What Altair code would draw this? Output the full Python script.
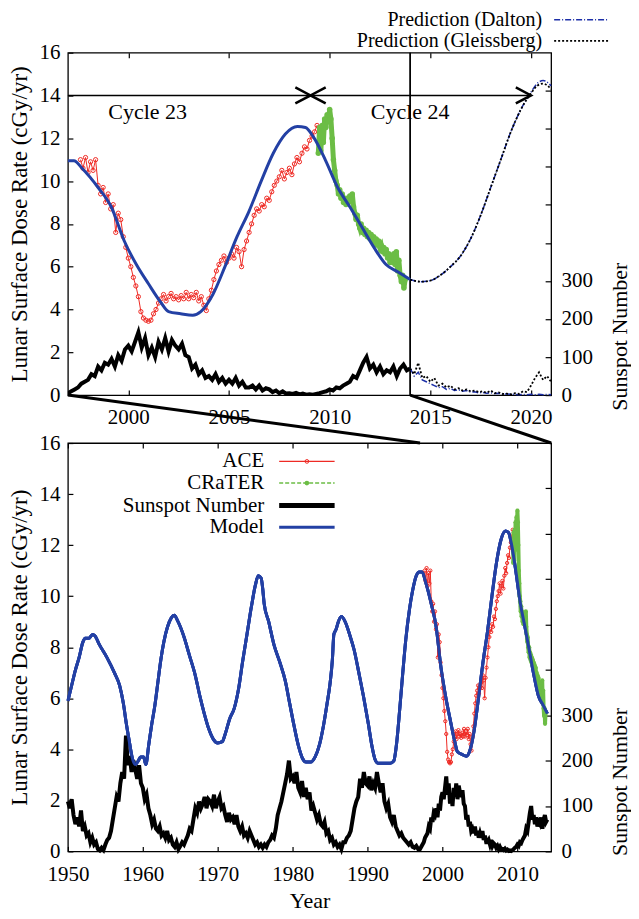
import altair as alt
import pandas as pd

FONT = "'Liberation Serif', 'Times New Roman', Tinos, 'DejaVu Serif', serif"
BLUE = "#2340a4"
RED = "#ee2a24"
GREEN = "#6cbd45"
DALTON = "#1c2fa8"

# ---------------- data ----------------
model_year = [1950.0, 1950.5, 1951.0, 1951.5, 1952.0, 1952.3, 1952.8, 1953.3, 1953.6, 1954.2,
              1955.2, 1956.2, 1956.9, 1957.4, 1957.8, 1958.2, 1958.6, 1959.0, 1959.4, 1959.7,
              1960.1, 1960.4, 1960.8, 1961.2, 1961.6, 1962.0, 1962.4, 1962.8, 1963.3, 1963.8,
              1964.2, 1964.7, 1965.5, 1966.2, 1967.0, 1967.6, 1968.2, 1968.8, 1969.4, 1970.0,
              1970.6, 1971.0, 1971.6, 1972.2, 1972.8, 1973.3, 1973.9, 1974.5, 1975.0, 1975.4,
              1975.8, 1976.0, 1976.2, 1976.8, 1977.5, 1978.3, 1979.0, 1979.6, 1980.2, 1980.8,
              1981.3, 1981.8, 1982.4, 1983.0, 1983.6, 1984.1, 1984.6, 1985.0, 1985.3, 1985.5,
              1985.8, 1986.1, 1986.5, 1987.0, 1987.6, 1988.2, 1988.9, 1989.5, 1990.1, 1990.6,
              1991.0, 1991.4, 1992.0, 1993.0, 1993.5, 1993.9, 1994.3, 1994.7, 1995.1, 1995.6,
              1996.0, 1996.5, 1996.9, 1997.3, 1997.7, 1998.5, 1999.15, 1999.8, 2000.4, 2001.0,
              2001.6, 2002.0, 2002.6, 2003.2, 2003.6, 2004.2, 2004.8, 2005.4, 2006.0, 2006.6,
              2007.2, 2007.8, 2008.4, 2008.8, 2009.2, 2009.8, 2010.4, 2011.0, 2011.6, 2012.2,
              2012.8, 2013.4, 2014.0]
model_dose = [5.9, 6.5, 7.1, 7.6, 8.2, 8.35, 8.35, 8.5, 8.45, 8.1,
              7.6, 7.0, 6.5, 5.8, 5.0, 4.3, 3.65, 3.4, 3.55, 3.7,
              3.7, 3.4, 4.2, 5.0, 5.7, 6.6, 7.5, 8.2, 8.8, 9.15,
              9.25, 9.0, 8.4, 7.7, 6.9, 6.1, 5.4, 4.8, 4.4, 4.25,
              4.3, 4.6, 5.2, 5.6, 6.4, 7.4, 8.5, 9.6, 10.4, 10.8,
              10.7, 10.3, 9.7, 9.0, 8.1, 7.4, 6.7, 5.8, 4.9, 4.1,
              3.65, 3.5, 3.5, 3.7, 4.2, 4.9, 5.8, 6.6, 7.5, 8.5,
              8.7, 9.0, 9.2, 9.0, 8.5, 7.9, 6.9, 6.0, 5.0, 4.1,
              3.6, 3.45, 3.45, 3.45, 3.55, 4.3, 5.6, 7.0, 8.3, 9.5,
              10.2, 10.8, 10.95, 10.95, 10.6, 9.7, 8.8, 7.2, 6.1, 5.2,
              4.35, 3.9, 3.8, 3.73, 3.9, 4.7, 6.0, 7.4, 8.6, 10.0,
              11.3, 12.2, 12.55, 12.5, 12.05, 10.96, 9.7, 8.8, 7.85, 6.9,
              6.1, 5.75, 5.4]

ace_dose = [11.0, 10.6, 11.1, 10.4, 10.9, 10.5, 11.0, 9.8, 9.4, 9.7,
            9.0, 9.4, 8.7, 8.9, 7.6, 8.5, 8.2, 7.4, 6.9, 6.4,
            6.0, 5.5, 5.1, 4.6, 3.9, 3.6, 3.5, 3.45, 3.5, 3.8,
            4.0, 4.3, 4.5, 4.7, 4.4, 4.6, 4.75, 4.5, 4.6, 4.45,
            4.65, 4.5, 4.8, 4.5, 4.7, 4.55, 4.8, 4.4, 4.6, 4.2,
            3.95, 4.5, 4.9, 5.4, 5.8, 6.1, 6.3, 6.5, 6.2, 6.4,
            6.6, 6.4, 6.9, 6.7, 6.0, 6.8, 7.2, 7.6, 8.0, 8.4,
            8.7, 8.6, 8.9, 8.8, 9.2, 9.1, 9.5, 9.8, 10.0, 10.2,
            10.5, 10.1, 10.4, 10.6, 10.3, 10.8, 11.1, 10.9, 11.3, 11.6,
            11.5, 11.9, 12.1, 12.3, 12.6, 12.4]
ace_year = [1997.625 + 0.125 * i for i in range(len(ace_dose))]

crater_dose = [11.3, 12.5, 11.4, 12.6, 11.8, 12.9, 12.5, 13.1, 12.8, 13.35,
               12.9, 12.0, 11.0, 10.5, 10.0, 9.8, 9.4, 9.6, 9.2, 9.4,
               9.0, 9.2, 8.9, 9.2, 9.0, 9.3, 9.1, 9.4, 8.8, 8.5,
               8.2, 8.4, 8.0, 7.8, 8.0, 7.6, 7.8, 7.5, 7.7, 7.4,
               7.6, 7.3, 7.5, 7.2, 7.4, 7.1, 7.3, 7.0, 7.2, 6.9,
               7.0, 6.7, 6.9, 6.6, 6.8, 6.4, 6.6, 6.2, 6.5, 6.2,
               6.6, 6.1, 6.7, 5.8, 6.3, 5.6, 5.3, 5.6, 5.0, 5.4]
crater_year = [2009.4375 + 0.0625 * i for i in range(len(crater_dose))]

sunspot_q = [110, 95, 115, 80, 60, 75, 55, 90, 45, 55, 35, 40, 20, 30, 15, 20,
             5, 2, 8, 3, 15, 25, 30, 45, 70, 95, 120, 110, 150, 175, 160, 255,
             190, 210, 175, 200, 180, 160, 190, 150, 140, 115, 125, 95, 80, 60, 70, 50,
             45, 55, 35, 40, 30, 45, 25, 30, 15, 10, 20, 5, 12, 20, 15, 25,
             35, 50, 45, 70, 95, 85, 110, 95, 105, 120, 95, 115, 110, 100, 125, 95,
             110, 120, 95, 100, 80, 65, 85, 70, 75, 60, 80, 55, 45, 55, 35, 40,
             30, 45, 35, 25, 15, 20, 10, 15, 8, 15, 10, 20, 25, 35, 30, 50,
             80, 95, 110, 130, 150, 170, 200, 160, 165, 150, 175, 140, 130, 155, 120, 140,
             115, 130, 90, 100, 85, 70, 80, 60, 55, 65, 40, 45, 25, 30, 15, 20,
             10, 15, 5, 20, 20, 30, 35, 45, 70, 95, 110, 120, 160, 140, 175, 150,
             145, 165, 135, 150, 140, 175, 150, 130, 150, 110, 95, 105, 75, 65, 80, 55,
             45, 35, 40, 30, 25, 20, 15, 20, 10, 8, 12, 5]
sunspot_m = [5, 10, 15, 20, 30, 35, 40, 55, 50, 75, 65, 85,
             80, 95, 75, 105, 90, 120, 130, 115, 140, 165, 125, 150,
             105, 125, 100, 140, 120, 150, 115, 145, 130, 120, 135, 105,
             100, 70, 80, 55, 65, 45, 50, 40, 55, 35, 45, 30,
             40, 30, 45, 25, 35, 20, 20, 25, 15, 25, 12, 18,
             15, 8, 12, 5, 10, 4, 5, 3, 6, 2, 4, 1,
             2, 1, 3, 5, 8, 10, 15, 12, 20, 18, 25, 30,
             35, 50, 45, 65, 85, 100, 70, 80, 60, 75, 55, 65,
             60, 75, 50, 70, 80, 65, 70]
sunspot_year = [1950 + 0.25 * i for i in range(len(sunspot_q))] + \
               [1997 + j / 6 for j in range(len(sunspot_m))]
sunspot = sunspot_q + sunspot_m

pred_year = [2014.0, 2014.5, 2015.0, 2015.5, 2016.0, 2016.5, 2017.0, 2017.5,
             2018.0, 2018.5, 2019.0, 2019.5, 2020.0, 2020.3, 2020.6, 2021.0]
pred_gleissberg = [5.4, 5.3, 5.35, 5.6, 6.0, 6.5, 7.3, 8.4, 9.7, 11.0, 12.3, 13.35, 14.1, 14.45, 14.55, 14.3]
pred_dalton = [5.4, 5.3, 5.35, 5.6, 6.0, 6.5, 7.3, 8.4, 9.7, 11.0, 12.3, 13.35, 14.15, 14.55, 14.7, 14.45]

pssn_year = [2014.0 + 0.2 * i for i in range(36)]
pssn_gleissberg = [70, 55, 85, 45, 50, 35, 45, 25, 30, 20, 25, 15, 18, 12, 15, 10, 12, 8,
                   10, 6, 12, 5, 7, 3, 4, 2, 5, 3, 10, 8, 25, 45, 60, 40, 50, 35]
pssn_dalton = [70, 50, 60, 40, 35, 30, 25, 20, 22, 15, 18, 12, 14, 10, 12, 8, 9, 6,
               7, 5, 6, 4, 5, 3, 3, 2, 2, 1, 2, 1, 2, 1, 2, 1, 2, 1]

cycle_labels = ["Cycle 23", "Cycle 24"]
cycle_label_year = [2000.96, 2014.0]
cycle_bounds = [1997.0, 2009.05, 2020.0]

top_ticks = [2000, 2005, 2010, 2015, 2020]
bottom_ticks = [1950, 1960, 1970, 1980, 1990, 2000, 2010]
dose_ticks = [0, 2, 4, 6, 8, 10, 12, 14, 16]
ssn_ticks = [0, 100, 200, 300, 400, 500, 600, 700, 800]

# ---------------- layout ----------------
TOP_X = [1997, 2021]
BOT_X = [1950, 2014.5]
DOSE = [0, 16]
SSN = [0, 900]
W = 484
H_TOP = 343
H_BOT = 409
GAP = 48

def D(**cols):
    return pd.DataFrame(cols)

def sx(domain, axis=None, field="x"):
    return alt.X(f"{field}:Q", scale=alt.Scale(domain=domain, nice=False, zero=False), axis=axis)

def sy(domain, axis=None, field="y"):
    return alt.Y(f"{field}:Q", scale=alt.Scale(domain=domain, nice=False, zero=False), axis=axis)

common = dict(domain=False, grid=False, tickColor="black", tickWidth=1.2,
              labelFont=FONT, labelFontSize=21, labelColor="black", labelFlush=False,
              titleFont=FONT, titleColor="black", titleFontWeight="normal")

def axis_x_bottom(values, title):
    if title:
        return alt.Axis(orient="bottom", values=values, format="d", offset=-5, tickSize=5,
                        labelPadding=12, title=title, titlePadding=6, titleFontSize=22, **common)
    return alt.Axis(orient="bottom", values=values, format="d", offset=-5, tickSize=5,
                    labelPadding=11, title=None, **common)

def axis_x_top(values):
    return alt.Axis(orient="top", values=values, offset=-5, tickSize=5, labels=False,
                    title=None, **common)

def axis_y_left():
    return alt.Axis(orient="left", values=dose_ticks, offset=-5, tickSize=5, labelPadding=8,
                    title="Lunar Surface Dose Rate (cGy/yr)", titlePadding=7,
                    titleFontSize=23, **common)

def axis_y_right(title_y):
    return alt.Axis(orient="right", values=ssn_ticks, offset=-6, tickSize=6, labelPadding=10,
                    labelExpr="datum.value <= 300 ? datum.label : ''",
                    title="Sunspot Number", titleAngle=270, titleX=74, titleY=title_y,
                    titleAlign="center", titleBaseline="middle", titleFontSize=22, **common)

df_model = D(x=model_year, y=model_dose)
df_ace = D(x=ace_year, y=ace_dose)
df_crater = D(x=crater_year, y=crater_dose)
df_ssn = D(x=sunspot_year, y=sunspot)


def data_layers(xdom, pt_scale, green_w):
    ace_line = alt.Chart(df_ace).mark_line(color=RED, strokeWidth=1, clip=True).encode(
        x=sx(xdom), y=sy(DOSE))
    ace_pts = alt.Chart(df_ace).mark_point(color=RED, filled=False, size=18 * pt_scale,
                                           strokeWidth=1, opacity=1, clip=True).encode(
        x=sx(xdom), y=sy(DOSE))
    cr_line = alt.Chart(df_crater).mark_line(color=GREEN, strokeWidth=green_w, clip=True).encode(
        x=sx(xdom), y=sy(DOSE))
    cr_pts = alt.Chart(df_crater).mark_circle(color=GREEN, size=30 * pt_scale, opacity=1,
                                              clip=True).encode(x=sx(xdom), y=sy(DOSE))
    model = alt.Chart(df_model).mark_line(color=BLUE, strokeWidth=3, interpolate="monotone",
                                          clip=True).encode(x=sx(xdom), y=sy(DOSE))
    return [ace_line, ace_pts, cr_line, cr_pts, model]


# ---------------- top panel ----------------
top_dose_axis = alt.Chart(D(x=[2014.0], y=[0.0], y2=[16.0])).mark_rule(
    color="black", strokeWidth=1.4).encode(
    x=sx(TOP_X, axis_x_bottom(top_ticks, None)), y=sy(DOSE, axis_y_left()), y2="y2:Q")
top_mirror = alt.Chart(D(x=[2014.0], y=[0.0], y2=[16.0])).mark_rule(
    color="black", strokeWidth=1.4).encode(
    x=sx(TOP_X, axis_x_top(top_ticks)), y=sy(DOSE), y2="y2:Q")

pred_d = alt.Chart(D(x=pred_year, y=pred_dalton)).mark_line(
    color=DALTON, strokeWidth=1.5, strokeDash=[6, 2, 1, 2], interpolate="monotone").encode(
    x=sx(TOP_X), y=sy(DOSE))
pred_g = alt.Chart(D(x=pred_year, y=pred_gleissberg)).mark_line(
    color="black", strokeWidth=1.8, strokeDash=[2, 2], interpolate="monotone").encode(
    x=sx(TOP_X), y=sy(DOSE))

arrow_line = alt.Chart(D(x=[cycle_bounds[0]], x2=[cycle_bounds[2]], y=[14.0])).mark_rule(
    color="black", strokeWidth=1.5).encode(x=sx(TOP_X), x2="x2:Q", y=sy(DOSE))
head_right = alt.Chart(D(x=[cycle_bounds[1], cycle_bounds[2]], y=[14.0, 14.0])).mark_point(
    shape="M-1.9,-1L0,0L-1.9,1", size=256, filled=False, color="black", strokeWidth=2.5,
    opacity=1).encode(x=sx(TOP_X), y=sy(DOSE))
head_left = alt.Chart(D(x=[cycle_bounds[1]], y=[14.0])).mark_point(
    shape="M1.9,-1L0,0L1.9,1", size=256, filled=False, color="black", strokeWidth=2.5,
    opacity=1).encode(x=sx(TOP_X), y=sy(DOSE))
cycle_text = alt.Chart(D(x=cycle_label_year, y=[13.25, 13.25], t=cycle_labels)).mark_text(
    font=FONT, fontSize=22, color="black", align="center", baseline="middle").encode(
    x=sx(TOP_X), y=sy(DOSE), text="t:N")

# connector lines from the top panel to the bottom panel
y_gap = -GAP / H_TOP * (DOSE[1] - DOSE[0])
def to_top_x(year):
    return TOP_X[0] + (year - BOT_X[0]) / (BOT_X[1] - BOT_X[0]) * (TOP_X[1] - TOP_X[0])
connectors = alt.Chart(D(x=[TOP_X[0], 2014.0], y=[0.0, 0.0],
                         x2=[to_top_x(TOP_X[0]), to_top_x(BOT_X[1])], y2=[y_gap, y_gap])).mark_rule(
    color="black", strokeWidth=3).encode(x=sx(TOP_X), y=sy(DOSE), x2="x2:Q", y2="y2:Q")

# prediction legend (above the top panel)
leg_top_rows = [17.54, 16.55]
leg_top = alt.Chart(D(x=[2020.55, 2020.55], y=leg_top_rows,
                      t=["Prediction (Dalton)", "Prediction (Gleissberg)"])).mark_text(
    font=FONT, fontSize=20, color="black", align="right", baseline="middle").encode(
    x=sx(TOP_X), y=sy(DOSE), text="t:N")
leg_top_d = alt.Chart(D(x=[2021.15], x2=[2023.85], y=[leg_top_rows[0]])).mark_rule(
    color=DALTON, strokeWidth=1.5, strokeDash=[6, 2, 1, 2]).encode(x=sx(TOP_X), x2="x2:Q", y=sy(DOSE))
leg_top_g = alt.Chart(D(x=[2021.15], x2=[2023.85], y=[leg_top_rows[1]])).mark_rule(
    color="black", strokeWidth=1.8, strokeDash=[2, 2]).encode(x=sx(TOP_X), x2="x2:Q", y=sy(DOSE))

top_ssn_line = alt.Chart(df_ssn).mark_line(color="black", strokeWidth=4, clip=True).encode(
    x=sx(TOP_X), y=sy(SSN, axis_y_right(284)))
top_pssn_d = alt.Chart(D(x=pssn_year, y=pssn_dalton)).mark_line(
    color=DALTON, strokeWidth=1.5, strokeDash=[6, 2, 1, 2]).encode(x=sx(TOP_X), y=sy(SSN))
top_pssn_g = alt.Chart(D(x=pssn_year, y=pssn_gleissberg)).mark_line(
    color="black", strokeWidth=1.8, strokeDash=[2, 2]).encode(x=sx(TOP_X), y=sy(SSN))

top_panel = alt.layer(
    top_dose_axis, top_mirror, top_ssn_line, top_pssn_d, top_pssn_g,
    *data_layers(TOP_X, 1.0, 5), pred_d, pred_g,
    arrow_line, head_right, head_left, cycle_text, connectors, leg_top, leg_top_d, leg_top_g
).resolve_scale(y="independent").resolve_axis(x="independent", y="independent").properties(
    width=W, height=H_TOP)

# ---------------- bottom panel ----------------
bot_axis = alt.Chart(df_model).mark_line(color=BLUE, strokeWidth=3, interpolate="monotone").encode(
    x=sx(BOT_X, axis_x_bottom(bottom_ticks, "Year")), y=sy(DOSE, axis_y_left()))
bot_mirror = alt.Chart(df_model).mark_line(color=BLUE, strokeWidth=3, interpolate="monotone").encode(
    x=sx(BOT_X, axis_x_top(bottom_ticks)), y=sy(DOSE))

leg_rows = [15.28, 14.43, 13.55, 12.70]
leg_names = ["ACE", "CRaTER", "Sunspot Number", "Model"]
leg_text_x = 1976.2
leg_line_x = [1978.2, 1985.6]
leg_mid = (leg_line_x[0] + leg_line_x[1]) / 2
leg_text = alt.Chart(D(x=[leg_text_x] * 4, y=leg_rows, t=leg_names)).mark_text(
    font=FONT, fontSize=21, color="black", align="right", baseline="middle").encode(
    x=sx(BOT_X), y=sy(DOSE), text="t:N")

def leg_rule(row, color, width, dash=None):
    if dash:
        mk = alt.Chart(D(x=[leg_line_x[0]], x2=[leg_line_x[1]], y=[leg_rows[row]])).mark_rule(
            color=color, strokeWidth=width, strokeDash=dash)
    else:
        mk = alt.Chart(D(x=[leg_line_x[0]], x2=[leg_line_x[1]], y=[leg_rows[row]])).mark_rule(
            color=color, strokeWidth=width)
    return mk.encode(x=sx(BOT_X), x2="x2:Q", y=sy(DOSE))

leg_ace_pt = alt.Chart(D(x=[leg_mid], y=[leg_rows[0]])).mark_point(
    color=RED, filled=False, size=14, strokeWidth=1, opacity=1).encode(x=sx(BOT_X), y=sy(DOSE))
leg_cr_pt = alt.Chart(D(x=[leg_mid], y=[leg_rows[1]])).mark_circle(
    color=GREEN, size=22, opacity=1).encode(x=sx(BOT_X), y=sy(DOSE))

bot_ssn = alt.Chart(df_ssn).mark_line(color="black", strokeWidth=4).encode(
    x=sx(BOT_X), y=sy(SSN, axis_y_right(339)))

bot_panel = alt.layer(
    bot_axis, bot_mirror, bot_ssn, *data_layers(BOT_X, 0.6, 4), leg_text,
    leg_rule(0, RED, 1.2), leg_ace_pt, leg_rule(1, GREEN, 1.5, [4, 2]), leg_cr_pt,
    leg_rule(2, "black", 5), leg_rule(3, BLUE, 3)
).resolve_scale(y="independent").resolve_axis(x="independent", y="independent").properties(
    width=W, height=H_BOT)

chart = alt.vconcat(top_panel, bot_panel, spacing=GAP, bounds="flush").configure(
    font=FONT).configure_view(
    stroke="black", strokeWidth=1.3).properties(padding=0, background="white")

chart.save("out.html", embed_options={"renderer": "svg", "actions": False})
